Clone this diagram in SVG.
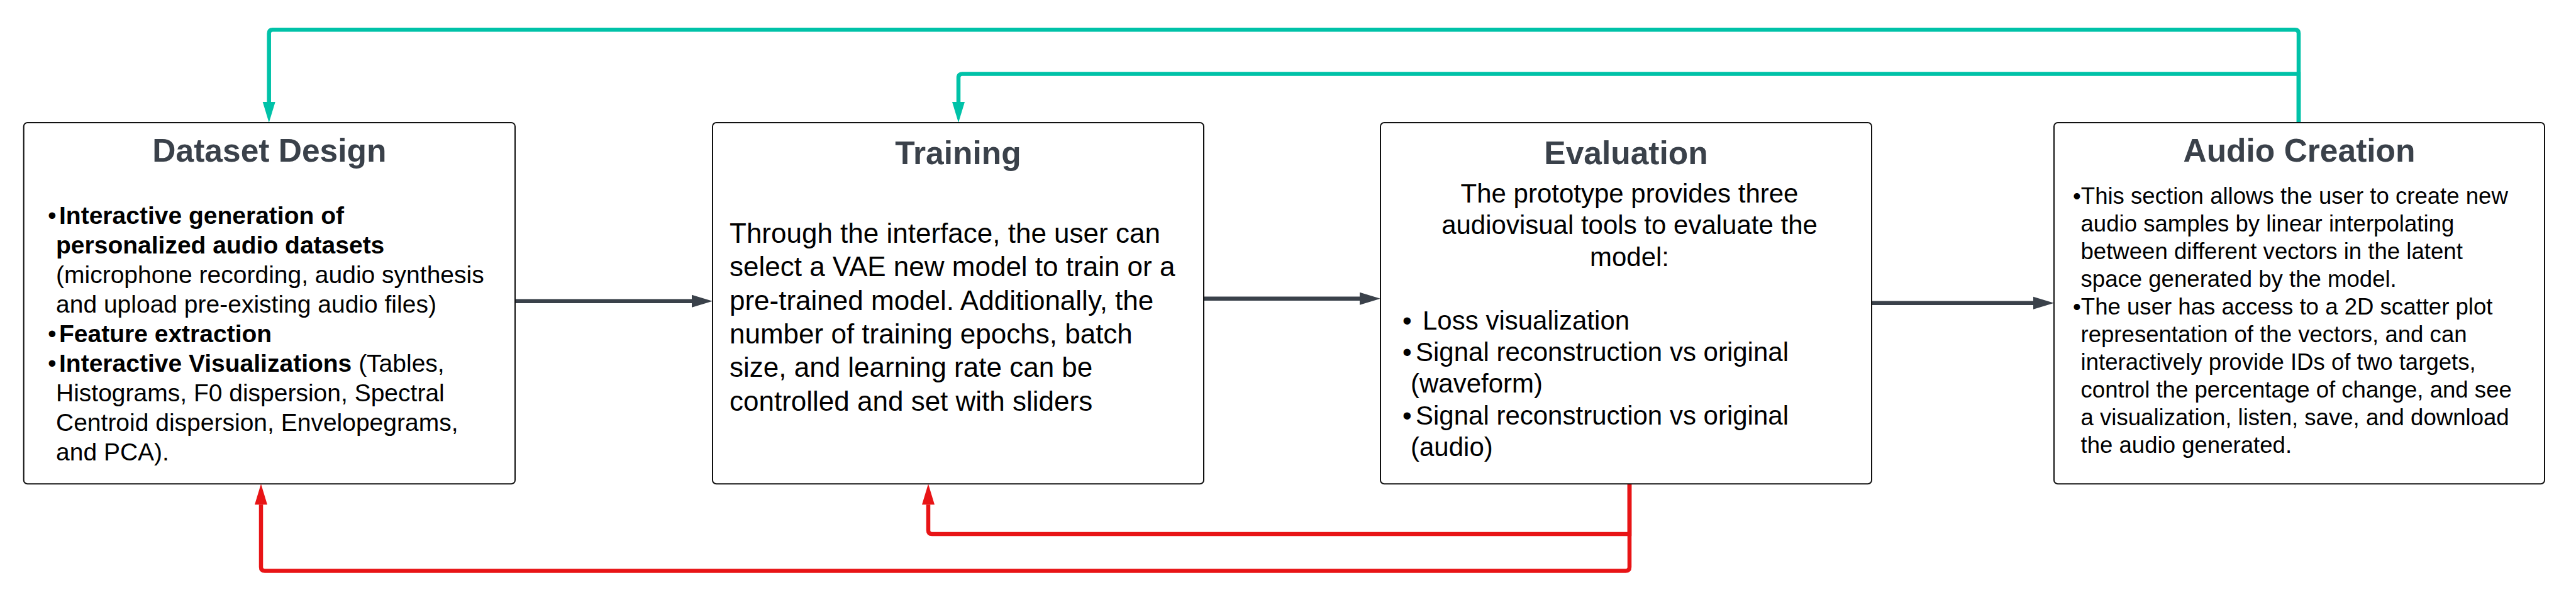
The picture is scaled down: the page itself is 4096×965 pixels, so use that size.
<svg xmlns="http://www.w3.org/2000/svg" width="4096" height="965" viewBox="0 0 4096 965">
<defs>
<style>
.box{fill:#fff;stroke:#111;stroke-width:2}
.title{font-family:"Liberation Sans",Arial,sans-serif;font-weight:bold;font-size:51.5px;fill:#3a414a;text-anchor:middle}
.t{font-family:"Liberation Sans",Arial,sans-serif;fill:#000}
.b{font-weight:bold}
.teal{fill:none;stroke:#00c2a8;stroke-width:6.5}
.red{fill:none;stroke:#e81416;stroke-width:6.5}
.dark{fill:none;stroke:#3a414a;stroke-width:6.5}
</style>
<marker id="ah-teal" markerUnits="userSpaceOnUse" markerWidth="34" markerHeight="20" refX="0" refY="10" orient="auto" overflow="visible"><path d="M0,0 L33,10 L0,20 Z" fill="#00c2a8"/></marker>
<marker id="ah-red" markerUnits="userSpaceOnUse" markerWidth="34" markerHeight="20" refX="0" refY="10" orient="auto" overflow="visible"><path d="M0,0 L33,10 L0,20 Z" fill="#e81416"/></marker>
<marker id="ah-dark" markerUnits="userSpaceOnUse" markerWidth="34" markerHeight="20" refX="0" refY="10" orient="auto" overflow="visible"><path d="M0,0 L33,10 L0,20 Z" fill="#3a414a"/></marker>
</defs>
<rect width="4096" height="965" fill="#fff"/>

<g id="connectors">
<path class="teal" d="M3655,195 V53 Q3655,47.2 3649,47.2 H433.7 Q427.7,47.2 427.7,53.2 V162" marker-end="url(#ah-teal)"/>
<path class="teal" d="M3655,195 V117.6 H1530 Q1524,117.6 1524,123.6 V162" marker-end="url(#ah-teal)"/>
<path class="red" d="M2591,769.3 V901.6 Q2591,907.6 2585,907.6 H421 Q415,907.6 415,901.6 V802.3" marker-end="url(#ah-red)"/>
<path class="red" d="M2591,769.3 V849 H1482 Q1476,849 1476,843 V802.3" marker-end="url(#ah-red)"/>
<path class="dark" d="M819,478.7 H1100" marker-end="url(#ah-dark)"/>
<path class="dark" d="M1914,474.8 H2162" marker-end="url(#ah-dark)"/>
<path class="dark" d="M2976,481.8 H3233" marker-end="url(#ah-dark)"/>
</g>

<g id="dataset-design">
<rect class="box" x="37.7" y="195" width="781.3" height="574.3" rx="6"/>
<text class="title" x="428.4" y="257">Dataset Design</text>
<g class="t" font-size="39">
<text x="76" y="356">•</text><text class="b" x="94" y="356">Interactive generation of</text>
<text class="b" x="89" y="403">personalized audio datasets</text>
<text x="89" y="450">(microphone recording, audio synthesis</text>
<text x="89" y="497">and upload pre-existing audio files)</text>
<text x="76" y="544">•</text><text class="b" x="94" y="544">Feature extraction</text>
<text x="76" y="591">•</text><text x="94" y="591"><tspan class="b">Interactive Visualizations</tspan> (Tables,</text>
<text x="89" y="638">Histograms, F0 dispersion, Spectral</text>
<text x="89" y="685">Centroid dispersion, Envelopegrams,</text>
<text x="89" y="732">and PCA).</text>
</g>
</g>

<g id="training">
<rect class="box" x="1133" y="195" width="781" height="574.3" rx="6"/>
<text class="title" x="1523.5" y="260.5">Training</text>
<g class="t" font-size="44">
<text x="1160" y="386">Through the interface, the user can</text>
<text x="1160" y="439.3">select a VAE new model to train or a</text>
<text x="1160" y="492.6">pre-trained model. Additionally, the</text>
<text x="1160" y="546">number of training epochs, batch</text>
<text x="1160" y="599.2">size, and learning rate can be</text>
<text x="1160" y="652.5">controlled and set with sliders</text>
</g>
</g>

<g id="evaluation">
<rect class="box" x="2195" y="195" width="781" height="574.3" rx="6"/>
<text class="title" x="2585.5" y="260.5">Evaluation</text>
<g class="t" font-size="42">
<text x="2591" y="321.5" text-anchor="middle">The prototype provides three</text>
<text x="2591" y="372" text-anchor="middle">audiovisual tools to evaluate the</text>
<text x="2591" y="422.6" text-anchor="middle">model:</text>
<text x="2230" y="523.5">•</text><text x="2262" y="523.5">Loss visualization</text>
<text x="2230" y="573.8">•</text><text x="2251" y="573.8">Signal reconstruction vs original</text>
<text x="2243" y="624.3">(waveform)</text>
<text x="2230" y="674.5">•</text><text x="2251" y="674.5">Signal reconstruction vs original</text>
<text x="2243" y="725">(audio)</text>
</g>
</g>

<g id="audio-creation">
<rect class="box" x="3266" y="195" width="780" height="574.3" rx="6"/>
<text class="title" x="3656" y="257">Audio Creation</text>
<g class="t" font-size="36.6">
<text x="3296" y="323.7">•This section allows the user to create new</text>
<text x="3308.5" y="367.7">audio samples by linear interpolating</text>
<text x="3308.5" y="411.7">between different vectors in the latent</text>
<text x="3308.5" y="455.7">space generated by the model.</text>
<text x="3296" y="499.7">•The user has access to a 2D scatter plot</text>
<text x="3308.5" y="543.7">representation of the vectors, and can</text>
<text x="3308.5" y="587.7">interactively provide IDs of two targets,</text>
<text x="3308.5" y="631.7">control the percentage of change, and see</text>
<text x="3308.5" y="675.7">a visualization, listen, save, and download</text>
<text x="3308.5" y="719.7">the audio generated.</text>
</g>
</g>
</svg>
